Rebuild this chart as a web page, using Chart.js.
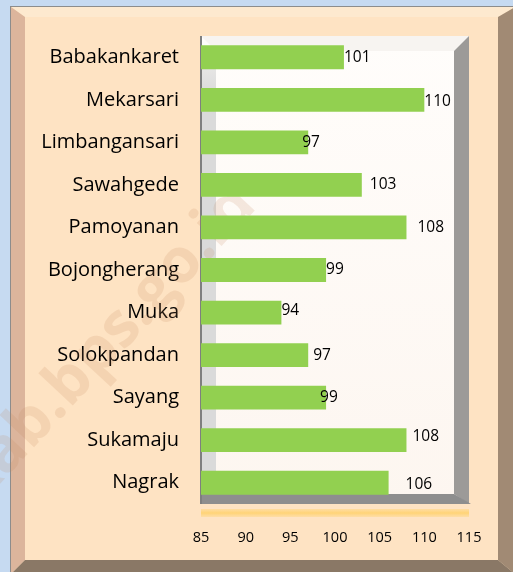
<!DOCTYPE html>
<html><head><meta charset="utf-8">
<script src="https://cdn.jsdelivr.net/npm/chart.js@4/dist/chart.umd.min.js"></script>
<style>html,body{margin:0;padding:0;background:#c6daf1;}canvas{display:block;}</style>
</head><body>
<canvas id="c" width="513" height="572"></canvas>
<script>
const categories = ["Babakankaret","Mekarsari","Limbangansari","Sawahgede","Pamoyanan","Bojongherang","Muka","Solokpandan","Sayang","Sukamaju","Nagrak"];
const values = [101,110,97,103,108,99,94,97,99,108,106];
const xTicks = [85,90,95,100,105,110,115];

// label offsets (style): dx, dy in px from bar end
const labelShift = [[0,0],[0,2],[-6,0],[8,0],[11,0],[0,0],[0,-2],[5,0],[-6,0],[6,-4],[17,2]];
const FONT = "'Open Sans', 'Noto Sans', sans-serif";

const frame = {
  id:'frame',
  beforeDraw(chart){
    const ctx = chart.ctx;
    const W = chart.width, H = chart.height;
    ctx.save();
    ctx.fillStyle = '#c6daf1'; ctx.fillRect(0,0,W,H);
    const L=10,T=6,R=W+2,B=H+2;
    ctx.fillStyle='#8c8c8c'; ctx.fillRect(L,T,R-L,B-T);
    const l=L+1,t=T+1,r=R,b=B;
    const bw=14, bh=10, rb=17, bb=14;
    ctx.fillStyle='#fee3c3'; ctx.fillRect(l,t,r-l,b-t);
    ctx.fillStyle='#fde9cf';
    ctx.beginPath(); ctx.moveTo(l,t); ctx.lineTo(r,t); ctx.lineTo(r-rb,t+bh); ctx.lineTo(l+bw,t+bh); ctx.closePath(); ctx.fill();
    ctx.fillStyle='#dcb59c';
    ctx.beginPath(); ctx.moveTo(l,t); ctx.lineTo(l+bw,t+bh); ctx.lineTo(l+bw,b-bb); ctx.lineTo(l,b); ctx.closePath(); ctx.fill();
    ctx.fillStyle='#a18a74';
    ctx.beginPath(); ctx.moveTo(r,t); ctx.lineTo(r,b); ctx.lineTo(r-rb,b-bb); ctx.lineTo(r-rb,t+bh); ctx.closePath(); ctx.fill();
    ctx.fillStyle='#8a7866';
    ctx.beginPath(); ctx.moveTo(l,b); ctx.lineTo(r,b); ctx.lineTo(r-rb,b-bb); ctx.lineTo(l+bw,b-bb); ctx.closePath(); ctx.fill();

    // 3D plot box
    const a = chart.chartArea;
    const x0=a.left, x1=a.right, y0=a.top, y1=a.bottom;
    const d=15, fl=10;
    const g=ctx.createLinearGradient(0,y0,0,y1);
    g.addColorStop(0,'#fffdfb'); g.addColorStop(1,'#fdf6f0');
    ctx.fillStyle=g; ctx.fillRect(x0,y0,x1-x0,y1-y0);
    ctx.fillStyle='#f7f4f1';
    ctx.beginPath(); ctx.moveTo(x0,y0); ctx.lineTo(x1,y0); ctx.lineTo(x1-d,y0+d); ctx.lineTo(x0+d,y0+d); ctx.closePath(); ctx.fill();
    const lg=ctx.createLinearGradient(0,y0,0,y0+60);
    lg.addColorStop(0,'#f4f2f0'); lg.addColorStop(1,'#dadada');
    ctx.fillStyle=lg; ctx.fillRect(x0,y0+d,d,y1-y0-d-fl);
    ctx.fillStyle='#9c9a98';
    ctx.beginPath(); ctx.moveTo(x1,y0); ctx.lineTo(x1,y1); ctx.lineTo(x1-d,y1-fl); ctx.lineTo(x1-d,y0+d); ctx.closePath(); ctx.fill();
    ctx.fillStyle='#8e8e8e';
    ctx.beginPath(); ctx.moveTo(x0,y1); ctx.lineTo(x1+2,y1); ctx.lineTo(x1-d,y1-fl); ctx.lineTo(x0,y1-fl); ctx.closePath(); ctx.fill();
    ctx.fillStyle='#7f7f7f'; ctx.fillRect(x0-1,y0,2,y1-y0);
    const og=ctx.createLinearGradient(0,y1+4,0,y1+14);
    og.addColorStop(0,'rgba(255,214,130,0.4)'); og.addColorStop(0.5,'rgba(255,210,110,0.9)'); og.addColorStop(1,'rgba(255,214,130,0.3)');
    ctx.fillStyle=og; ctx.fillRect(x0,y1+5,x1-x0,8);
    ctx.restore();
  },
  beforeDatasetsDraw(chart){
    const ctx=chart.ctx;
    ctx.save();
    ctx.translate(258,207); ctx.rotate(-47*Math.PI/180);
    ctx.fillStyle='rgba(190,130,90,0.16)';
    ctx.font="bold 62px "+FONT; ctx.textAlign='right'; ctx.textBaseline='alphabetic';
    ctx.fillText('kab.bps.go.id',0,0);
    ctx.restore();
  }
};

const valueLabels = {
  id:'valueLabels',
  afterDatasetsDraw(chart){
    const ctx=chart.ctx; const meta=chart.getDatasetMeta(0);
    ctx.save();
    ctx.font="15.5px "+FONT; ctx.fillStyle='#000'; ctx.textAlign='left'; ctx.textBaseline='middle';
    meta.data.forEach((bar,i)=>{
      const s=labelShift[i]||[0,0];
      ctx.fillText(String(values[i]), bar.x+s[0], bar.y+s[1]);
    });
    ctx.restore();
  }
};

new Chart(document.getElementById('c'),{
  type:'bar',
  data:{labels:categories,datasets:[{data:values,backgroundColor:'#92d050',borderWidth:0,barPercentage:0.56,categoryPercentage:1,base:85}]},
  options:{
    indexAxis:'y',responsive:false,animation:false,
    layout:{padding:{left:30,right:44,top:36,bottom:20}},
    plugins:{legend:{display:false},tooltip:{enabled:false}},
    scales:{
      x:{min:85,max:115,
        afterBuildTicks(s){s.ticks=xTicks.map(v=>({value:v}));},
        afterFit(s){s.height=48;},
        grid:{display:false,drawTicks:false},border:{display:false},
        ticks:{padding:25,color:'#000',font:{family:FONT,size:14.5}}},
      y:{afterFit(s){s.width=171;},
        grid:{display:false,drawTicks:false},border:{display:false},
        ticks:{padding:22,color:'#000',font:{family:FONT,size:20}}}
    }
  },
  plugins:[frame,valueLabels]
});
</script>
</body></html>
